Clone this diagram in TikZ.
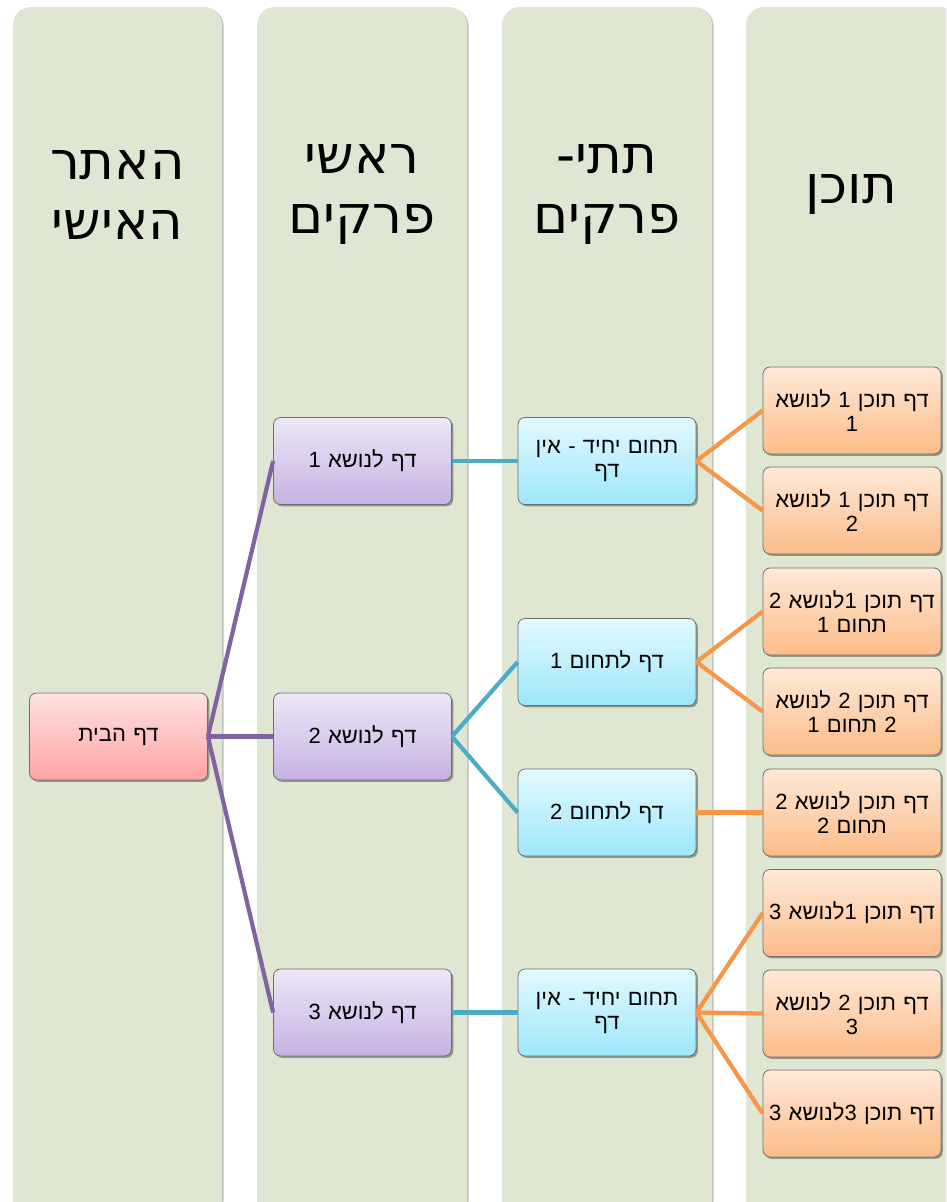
\documentclass[tikz,border=0pt]{standalone}
\usepackage{fontspec}
\usetikzlibrary{shadows}
\TeXXeTstate=1
\newfontfamily\hebfont[Script=Hebrew]{Liberation Sans}
\newfontfamily\headfont[Script=Hebrew]{DejaVu Sans}
\definecolor{colgreen}{RGB}{223,231,211}
\definecolor{pinktop}{RGB}{255,226,226}
\definecolor{pinkbot}{RGB}{255,163,163}
\definecolor{purptop}{RGB}{237,231,247}
\definecolor{purpbot}{RGB}{198,178,226}
\definecolor{cyantop}{RGB}{226,249,255}
\definecolor{cyanbot}{RGB}{158,231,251}
\definecolor{orngtop}{RGB}{255,233,216}
\definecolor{orngbot}{RGB}{252,188,136}
\definecolor{linepurple}{RGB}{128,100,162}
\definecolor{lineteal}{RGB}{75,172,198}
\definecolor{lineorange}{RGB}{247,150,70}
\definecolor{boxborder}{RGB}{110,110,110}
\begin{document}
\begin{tikzpicture}[x=1pt,y=-1pt,
  column/.style={fill=colgreen, rounded corners=18pt,
    drop shadow={shadow xshift=1.5pt,shadow yshift=-1pt,opacity=0.25,fill=black}},
  head/.style={align=center, font=\headfont\fontsize{53}{60}\selectfont, inner sep=0pt},
  box/.style={draw=boxborder, line width=0.8pt, rounded corners=7pt,
    minimum width=175pt, minimum height=87pt, inner sep=2pt, text width=174pt,
    align=center, font=\hebfont\fontsize{22}{24}\selectfont,
    drop shadow={shadow xshift=1.8pt,shadow yshift=-1.8pt,opacity=0.35,fill=black}},
  homebox/.style={box, top color=pinktop, bottom color=pinkbot},
  topicbox/.style={box, top color=purptop, bottom color=purpbot},
  subbox/.style={box, top color=cyantop, bottom color=cyanbot},
  contbox/.style={box, minimum width=176pt, top color=orngtop, bottom color=orngbot},
  conn/.style={line width=4.2pt},
  purpleconn/.style={conn, draw=linepurple},
  tealconn/.style={conn, draw=lineteal},
  orangeconn/.style={conn, draw=lineorange}]
\clip (0,0) rectangle (946,1202);
\fill[white] (0,0) rectangle (946,1202);
% columns
\path[column] (13,7) rectangle (222,1218);
\path[column] (257,7) rectangle (467,1218);
\path[column] (502,7) rectangle (712,1218);
\path[column] (746,7) rectangle (958,1218);
% headers
\node[head] (h1) at (117.5,195) {\beginR האתר\endR\\\beginR האישי\endR};
\node[head] (h2) at (362,195) {\beginR ראשי\endR\\\beginR פרקים\endR};
\node[head] (h3) at (607,195) {\beginR תתי-\endR\\\beginR פרקים\endR};
\node[head] (h4) at (851,195) {\beginR תוכן\endR};
% nodes
\node[homebox] (home) at (118.5,736.5) {\beginR דף הבית\endR};
\node[topicbox] (t1) at (362.5,461) {\beginR דף לנושא 1\endR};
\node[topicbox] (t2) at (362.5,736.5) {\beginR דף לנושא 2\endR};
\node[topicbox] (t3) at (362.5,1012.5) {\beginR דף לנושא 3\endR};
\node[subbox] (s1) at (607,461) {\beginR תחום יחיד - אין\endR\\\beginR דף\endR};
\node[subbox] (s2) at (607,662) {\beginR דף לתחום 1\endR};
\node[subbox] (s3) at (607,812.5) {\beginR דף לתחום 2\endR};
\node[subbox] (s4) at (607,1012.5) {\beginR תחום יחיד - אין\endR\\\beginR דף\endR};
\node[contbox] (c1) at (852,410.5) {\beginR דף תוכן 1 לנושא\endR\\1};
\node[contbox] (c2) at (852,510.5) {\beginR דף תוכן 1 לנושא\endR\\2};
\node[contbox] (c3) at (852,611.5) {\beginR דף תוכן 1לנושא 2\endR\\\beginR תחום 1\endR};
\node[contbox] (c4) at (852,711.5) {\beginR דף תוכן 2 לנושא\endR\\\beginR 2 תחום 1\endR};
\node[contbox] (c5) at (852,812.5) {\beginR דף תוכן לנושא 2\endR\\\beginR תחום 2\endR};
\node[contbox] (c6) at (852,913) {\beginR דף תוכן 1לנושא 3\endR};
\node[contbox] (c7) at (852,1013.5) {\beginR דף תוכן 2 לנושא\endR\\3};
\node[contbox] (c8) at (852,1113.5) {\beginR דף תוכן 3לנושא 3\endR};
% connectors
\draw[purpleconn] (home.east) -- (t1.west);
\draw[purpleconn] (home.east) -- (t2.west);
\draw[purpleconn] (home.east) -- (t3.west);
\draw[tealconn] (t1.east) -- (s1.west);
\draw[tealconn] (t2.east) -- (s2.west);
\draw[tealconn] (t2.east) -- (s3.west);
\draw[tealconn] (t3.east) -- (s4.west);
\draw[orangeconn] (s1.east) -- (c1.west);
\draw[orangeconn] (s1.east) -- (c2.west);
\draw[orangeconn] (s2.east) -- (c3.west);
\draw[orangeconn] (s2.east) -- (c4.west);
\draw[orangeconn] (s3.east) -- (c5.west);
\draw[orangeconn] (s4.east) -- (c6.west);
\draw[orangeconn] (s4.east) -- (c7.west);
\draw[orangeconn] (s4.east) -- (c8.west);
\end{tikzpicture}
\end{document}
